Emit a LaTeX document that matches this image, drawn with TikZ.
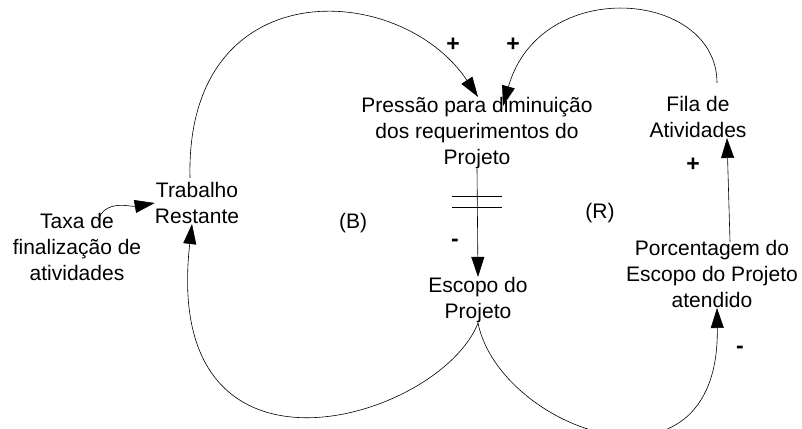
\documentclass[tikz,border=0pt]{standalone}
\usepackage{fontspec}
\setmainfont{Liberation Sans}
\usetikzlibrary{arrows.meta}

\begin{document}
\begin{tikzpicture}[x=1pt, y=-1pt, line width=0.6pt,
	var/.style={align=center, inner sep=0pt, font=\fontsize{21}{26}\selectfont},
	sinal/.style={inner sep=0pt, font=\fontsize{23}{23}\selectfont\bfseries},
	link/.style={-{Triangle[length=20pt,width=13pt]}}]
	\useasboundingbox (0,0) rectangle (802,428);

	\node[var] (taxa) at (77,247) {Taxa de\\finalização de\\atividades};
	\node[var] (trabalho) at (197,203) {Trabalho\\Restante};
	\node[var] (pressao) at (477,133) {Pressão para diminuição\\dos requerimentos do\\Projeto};
	\node[var] (fila) at (698,117) {Fila de\\Atividades};
	\node[var] (escopo) at (478,300) {Escopo do\\Projeto};
	\node[var] (porcent) at (712,274) {Porcentagem do\\Escopo do Projeto\\atendido};
	\node[var] (laco_b) at (353,223) {(B)};
	\node[var] (laco_r) at (600,213) {(R)};

	\draw[link] ([xshift=21pt,yshift=-8pt]taxa.north) to[out=75,in=190] (trabalho.west);
	\draw[link] ([xshift=-7pt,yshift=4pt]trabalho.north) .. controls (185,-30) and (400,-20) .. ([xshift=1pt]pressao.north);
	\draw[link] ([xshift=19pt,yshift=13pt]fila.north) .. controls (717,-10) and (540,-25) .. ([xshift=26pt,yshift=-9pt]pressao.north);
	\draw[link] (pressao.south) -- coordinate[pos=0.3] (atraso) (escopo.north);
	\draw ([xshift=-25pt,yshift=5pt]atraso) -- ([xshift=25pt,yshift=5pt]atraso);
	\draw ([xshift=-25pt,yshift=-6pt]atraso) -- ([xshift=25pt,yshift=-6pt]atraso);
	\draw[link] (escopo.south) .. controls (440,420) and (160,505) .. ([xshift=-5pt]trabalho.south);
	\draw[link] (escopo.south) .. controls (500,430) and (720,510) .. ([xshift=5pt]porcent.south);
	\draw[link] ([xshift=18pt,yshift=-2pt]porcent.north) -- ([xshift=29pt]fila.south);

	\node[sinal] (s1) at (453,45) {+};
	\node[sinal] (s2) at (513,45) {+};
	\node[sinal] (s3) at (455,243) {-};
	\node[sinal] (s4) at (693,165) {+};
	\node[sinal] (s5) at (740,350) {-};
\end{tikzpicture}
\end{document}
